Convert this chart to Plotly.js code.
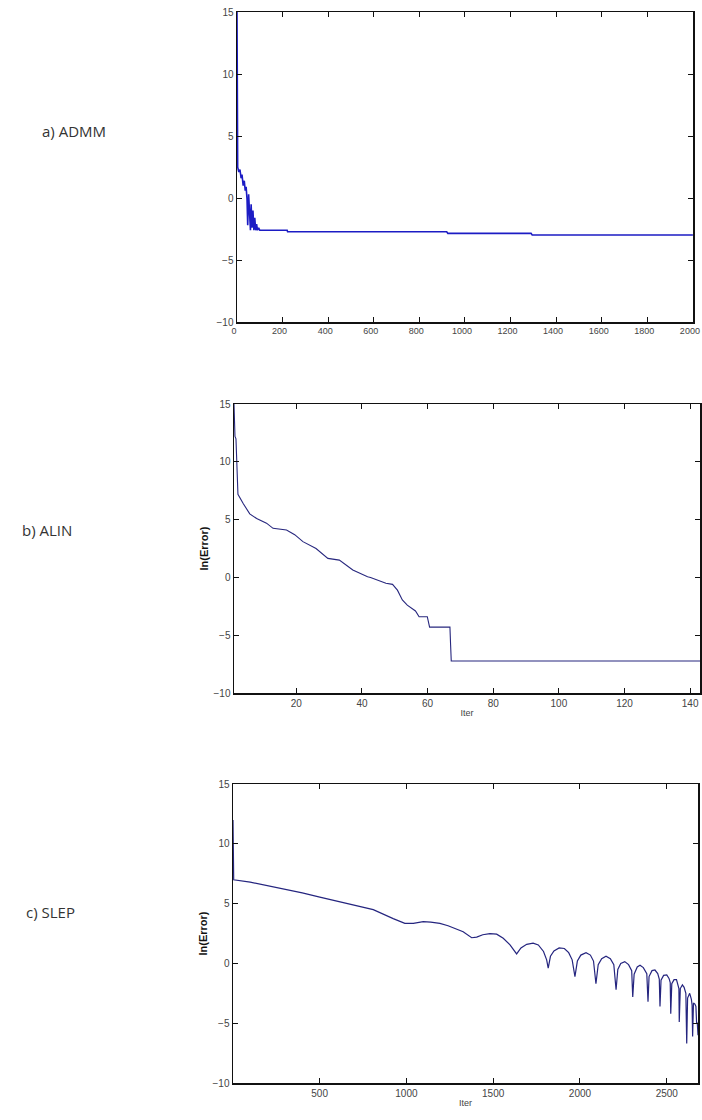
<!DOCTYPE html>
<html>
<head>
<meta charset="utf-8">
<script src="https://cdn.plot.ly/plotly-3.0.1.min.js"></script>
<style>html,body{margin:0;padding:0;background:#fff;}#chart{width:702px;height:1120px;}</style>
</head>
<body>
<div id="chart"></div>
<script>
// ---- a) ADMM ----
var admmIter = [0, 3, 8, 13, 18, 22, 27, 32, 36, 40, 44, 47, 51, 55, 59, 62, 66, 70, 74, 78, 82, 86, 90, 95, 100, 110, 220, 222, 920, 925, 1290, 1295, 2000];
var admmErr  = [15, 2.5, 2.1, 2.3, 1.6, 1.9, 1.0, 1.4, 0.6, 0.9, -0.1, -2.2, 0.3, -1.0, -2.6, -0.5, -2.4, -1.0, -2.6, -1.6, -2.6, -2.1, -2.6, -2.4, -2.6, -2.6, -2.6, -2.72, -2.72, -2.85, -2.85, -2.98, -2.98];

// ---- b) ALIN ----
var alinIter = [1, 1.3, 1.6, 2, 2.2, 3.8, 5.8, 7.9, 10.9, 12.9, 17, 19.5, 22, 26, 29.6, 33.1, 35.1, 37.2, 41.7, 42.6, 47.3, 49.3, 50.8, 52.3, 53.8, 55.3, 56.3, 57.4, 59.9, 60.6, 66.8, 67.0, 67.2, 143];
var alinErr  = [15, 12.2, 12, 8.6, 7.2, 6.4, 5.5, 5.1, 4.7, 4.25, 4.1, 3.7, 3.1, 2.5, 1.65, 1.5, 1.07, 0.64, 0.06, 0, -0.5, -0.6, -1.1, -1.95, -2.4, -2.7, -2.9, -3.4, -3.4, -4.3, -4.3, -5.8, -7.23, -7.23];

// ---- c) SLEP ----
var slepIter = [1, 5, 100, 271, 400, 501, 600, 693, 809, 924, 991, 1040, 1068, 1097, 1140, 1193, 1240, 1280, 1327, 1376, 1405, 1440, 1481, 1520, 1558, 1597, 1635, 1660, 1693, 1730, 1760, 1790, 1808, 1817, 1830, 1850, 1880, 1910, 1935, 1955, 1971, 1985, 2005, 2035, 2060, 2078, 2092, 2105, 2125, 2150, 2175, 2195, 2208, 2218, 2235, 2258, 2280, 2298, 2304, 2312, 2330, 2346, 2365, 2385, 2392, 2398, 2415, 2432, 2448, 2457, 2461, 2467, 2482, 2500, 2513, 2520, 2523, 2529, 2542, 2556, 2566, 2570, 2572, 2578, 2590, 2600, 2610, 2615, 2620, 2632, 2642, 2646, 2649, 2654, 2662, 2668, 2672, 2676, 2680];
var slepErr  = [12, 7.0, 6.8, 6.3, 5.9, 5.55, 5.2, 4.9, 4.5, 3.75, 3.35, 3.35, 3.4, 3.5, 3.45, 3.35, 3.15, 2.95, 2.65, 2.15, 2.2, 2.4, 2.5, 2.45, 2.1, 1.55, 0.8, 1.3, 1.6, 1.7, 1.55, 1.0, 0.3, -0.4, 0.6, 1.05, 1.3, 1.25, 0.9, 0.3, -1.1, 0.2, 0.7, 0.9, 0.7, 0.2, -1.7, -0.1, 0.4, 0.6, 0.4, -0.1, -2.2, -0.5, 0.0, 0.15, -0.1, -0.6, -2.8, -0.9, -0.3, -0.15, -0.35, -0.85, -3.2, -1.1, -0.6, -0.55, -0.85, -1.3, -3.6, -1.4, -1.0, -0.95, -1.25, -1.6, -4.2, -1.7, -1.35, -1.35, -1.8, -2.1, -4.9, -2.1, -1.8, -2.0, -2.5, -6.7, -2.9, -2.5, -3.0, -3.5, -6.1, -3.3, -3.4, -3.6, -5.0, -5.0, -6.0];

var panelLabels = ['a) ADMM', 'b) ALIN', 'c) SLEP'];
var yTicks = [-10, -5, 0, 5, 10, 15];
var admmXTicks = [0, 200, 400, 600, 800, 1000, 1200, 1400, 1600, 1800, 2000];
var alinXTicks = [20, 40, 60, 80, 100, 120, 140];
var slepXTicks = [500, 1000, 1500, 2000, 2500];

var W = 702, H = 1120;
function px(x){ return x / W; }
function py(y){ return 1 - y / H; }

var fam = 'Liberation Sans Narrow, Arial Narrow, Liberation Sans, sans-serif';
var tickFont = {family: fam, size: 10, color: '#444'};

function axis(domain, range, ticks, anchor, extra){
  var a = {
    domain: domain, range: range, tickmode: 'array', tickvals: ticks,
    ticks: 'inside', ticklen: 5, tickwidth: 1, tickcolor: '#111',
    showline: true, linecolor: '#111', linewidth: 1.5, mirror: 'ticks',
    showgrid: false, zeroline: false, tickfont: tickFont, anchor: anchor,
    fixedrange: true
  };
  for (var k in extra) a[k] = extra[k];
  return a;
}

var traces = [
  {x: admmIter, y: admmErr, type: 'scatter', mode: 'lines', xaxis: 'x', yaxis: 'y',
   line: {color: '#1c1cc4', width: 1.6}, hoverinfo: 'skip', showlegend: false},
  {x: alinIter, y: alinErr, type: 'scatter', mode: 'lines', xaxis: 'x2', yaxis: 'y2',
   line: {color: '#27277e', width: 1.1}, hoverinfo: 'skip', showlegend: false},
  {x: slepIter, y: slepErr, type: 'scatter', mode: 'lines', xaxis: 'x3', yaxis: 'y3',
   line: {color: '#25257f', width: 1.2}, hoverinfo: 'skip', showlegend: false}
];

var yTitle = {text: 'ln(Error)', font: {family: fam, size: 11, color: '#111', weight: 'bold'}, standoff: 2};
var xTitle = {text: 'Iter', font: {family: fam, size: 9, color: '#444'}, standoff: 2};
var labelFont = {family: 'Open Sans, Noto Sans, sans-serif', size: 15, color: '#333'};

var layout = {
  width: W, height: H,
  margin: {l: 0, r: 0, t: 0, b: 0},
  paper_bgcolor: '#fff', plot_bgcolor: '#fff',
  showlegend: false,
  xaxis:  axis([px(237), px(693)], [0, 2000.5], admmXTicks, 'y',
               {tickfont: {family: fam, size: 9, color: '#444'}, ticklabelshift: -3, ticklabeloverflow: 'allow'}),
  yaxis:  axis([py(322), py(12)], [-10, 15.01], yTicks, 'x', {}),
  xaxis2: axis([px(234), px(700)], [1, 143], alinXTicks, 'y2', {title: xTitle}),
  yaxis2: axis([py(693), py(404)], [-10, 15.01], yTicks, 'x2', {title: yTitle}),
  xaxis3: axis([px(233), px(698)], [1, 2680], slepXTicks, 'y3', {title: xTitle}),
  yaxis3: axis([py(1083), py(784)], [-10, 15.01], yTicks, 'x3', {title: yTitle}),
  annotations: [
    {text: panelLabels[0], xref: 'paper', yref: 'paper', x: px(40), y: py(131), xanchor: 'left', yanchor: 'middle', showarrow: false, font: labelFont},
    {text: panelLabels[1], xref: 'paper', yref: 'paper', x: px(20), y: py(530), xanchor: 'left', yanchor: 'middle', showarrow: false, font: labelFont},
    {text: panelLabels[2], xref: 'paper', yref: 'paper', x: px(24), y: py(912), xanchor: 'left', yanchor: 'middle', showarrow: false, font: labelFont}
  ]
};

Plotly.newPlot('chart', traces, layout, {displayModeBar: false, staticPlot: true});
</script>
</body>
</html>
